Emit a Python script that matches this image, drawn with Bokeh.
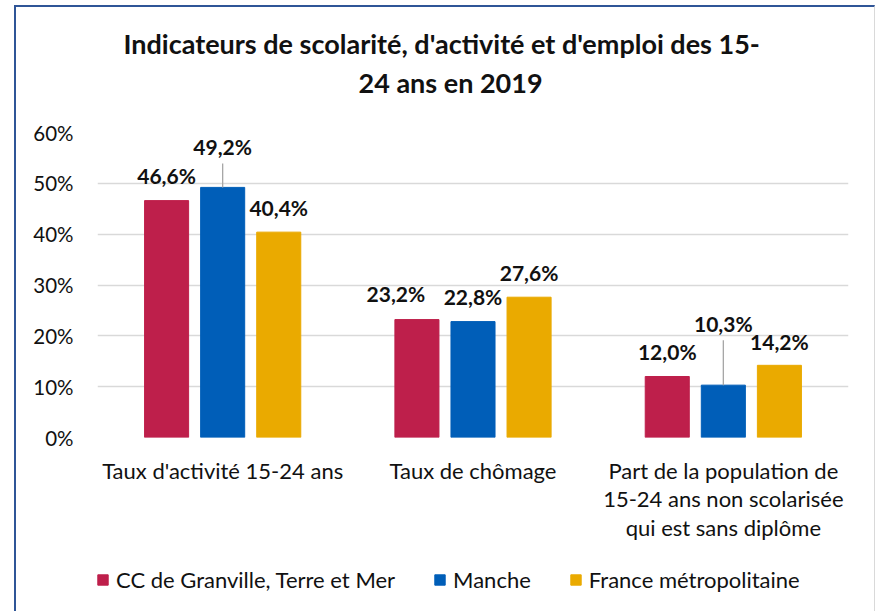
from bokeh.plotting import figure
from bokeh.layouts import column
from bokeh.models import (ColumnDataSource, FactorRange, Range1d, Legend, LegendItem,
                          Title, FixedTicker, PrintfTickFormatter)
from bokeh.transform import dodge
from bokeh.core.properties import value
from bokeh.embed import file_html
from bokeh.resources import INLINE

# ---------------- data ----------------
categories = ["Taux d'activité 15-24 ans",
              "Taux de chômage",
              "Part de la population de\n15-24 ans non scolarisée\nqui est sans diplôme"]
series = ["CC de Granville, Terre et Mer", "Manche", "France métropolitaine"]
granville = [46.6, 23.2, 12.0]
manche = [49.2, 22.8, 10.3]
france = [40.4, 27.6, 14.2]
y_ticks = [0, 10, 20, 30, 40, 50, 60]
title_lines = ["Indicateurs de scolarité, d'activité et d'emploi des 15-",
               "24 ans en 2019"]

# ---------------- styles ----------------
FONT = "Lato"
TXT = "#111111"
BLUE_BORDER = "2px solid #2F5597"
GREY_BORDER = "1px solid #D9D9D9"
colors = ["#BE1F4B", "#005EB8", "#EAAA00"]
offsets = [-0.224, 0.0, 0.224]
bar_w = 0.176
# label placement (pixels) per series / category
label_dy = [[25, 26, 25], [41, 25, 62], [25, 25, 24]]
label_dx = [[0, -21, 0], [0, 0, 0], [0, 0, 0]]
leader_px = [[0, 0, 0], [24, 0, 45], [0, 0, 0]]

p = figure(width=861, height=548, output_backend="svg", toolbar_location=None,
           x_range=FactorRange(*categories, range_padding=0),
           y_range=Range1d(0, 60),
           min_border_left=81, min_border_right=29,
           min_border_top=125, min_border_bottom=118)
p.styles = {"margin-left": "14px", "margin-top": "5px",
            "border-top": BLUE_BORDER, "border-left": BLUE_BORDER,
            "border-right": GREY_BORDER}
p.outline_line_color = None
p.background_fill_color = "white"
p.border_fill_color = "white"

values = [granville, manche, france]
for i, (name, vals) in enumerate(zip(series, values)):
    src = ColumnDataSource(dict(
        cat=categories, val=vals,
        lab=[f"{v:.1f}".replace(".", ",") + "%" for v in vals],
        dy=[-d for d in label_dy[i]], dx=label_dx[i]))
    p.vbar(x=dodge("cat", offsets[i], range=p.x_range), top="val", bottom=0,
           width=bar_w, source=src, fill_color=colors[i], line_color=colors[i])
    p.text(x=dodge("cat", offsets[i], range=p.x_range), y="val", text="lab",
           x_offset="dx", y_offset="dy", source=src,
           text_align="center", text_baseline="middle",
           text_font=value(FONT), text_font_style="bold",
           text_font_size="21px", text_color=TXT)
    lead_cats = [c for c, l in zip(categories, leader_px[i]) if l > 0]
    if lead_cats:
        lsrc = ColumnDataSource(dict(
            cat=lead_cats,
            val=[v for v, l in zip(vals, leader_px[i]) if l > 0],
            ln=[l for l in leader_px[i] if l > 0]))
        p.ray(x=dodge("cat", offsets[i], range=p.x_range), y="val", length="ln",
              length_units="screen", angle=90, angle_units="deg",
              line_color="#A6A6A6", line_width=1.3, source=lsrc)

# axes
p.yaxis.ticker = FixedTicker(ticks=y_ticks)
p.yaxis.formatter = PrintfTickFormatter(format="%d%%")
for ax in (p.xaxis, p.yaxis):
    ax.axis_line_color = None
    ax.major_tick_line_color = None
    ax.minor_tick_line_color = None
    ax.major_label_text_font = FONT
    ax.major_label_text_color = TXT
p.yaxis.major_label_text_font_size = "20.5px"
p.yaxis.major_label_standoff = 18
p.xaxis.major_label_text_font_size = "22px"
p.xaxis.major_label_standoff = 13
p.xaxis.major_label_text_line_height = 1.06

p.xgrid.grid_line_color = None
p.ygrid.grid_line_color = "#D9D9D9"
p.ygrid.grid_line_width = 1.5

# title (second line nearest the plot, added first)
p.title = None
p.add_layout(Title(text=title_lines[1], align="left", offset=261, standoff=67,
                   text_font=FONT, text_font_style="bold", text_font_size="27px",
                   text_color=TXT), "above")
p.add_layout(Title(text=title_lines[0], align="left", offset=26, standoff=-59,
                   text_font=FONT, text_font_style="bold", text_font_size="27px",
                   text_color=TXT), "above")

# legend strip (separate small figure under the chart)
lg = figure(width=861, height=58, output_backend="svg", toolbar_location=None,
            x_range=Range1d(0, 1), y_range=Range1d(0, 1),
            x_axis_type=None, y_axis_type=None,
            min_border_left=0, min_border_right=0, min_border_top=0, min_border_bottom=0)
lg.styles = {"margin-left": "14px", "border-left": BLUE_BORDER, "border-right": GREY_BORDER}
lg.outline_line_color = None
lg.xgrid.visible = False
lg.ygrid.visible = False
items = []
for name, c in zip(series, colors):
    # zero-height stand-in glyph: only its swatch is shown in the legend
    r = lg.vbar(x=[0], top=[0], bottom=0, width=0, fill_color=c, line_color=c)
    items.append(LegendItem(label=name, renderers=[r]))
legend = Legend(items=items, orientation="horizontal", location=(-1, 18),
                glyph_width=13, glyph_height=13, label_standoff=7, spacing=38,
                padding=0, margin=0, border_line_color=None, background_fill_alpha=0,
                label_text_font=FONT, label_text_font_size="22px", label_text_color=TXT)
lg.add_layout(legend)

layout = column(p, lg, spacing=0)
open("out.html", "w").write(file_html(layout, INLINE))
